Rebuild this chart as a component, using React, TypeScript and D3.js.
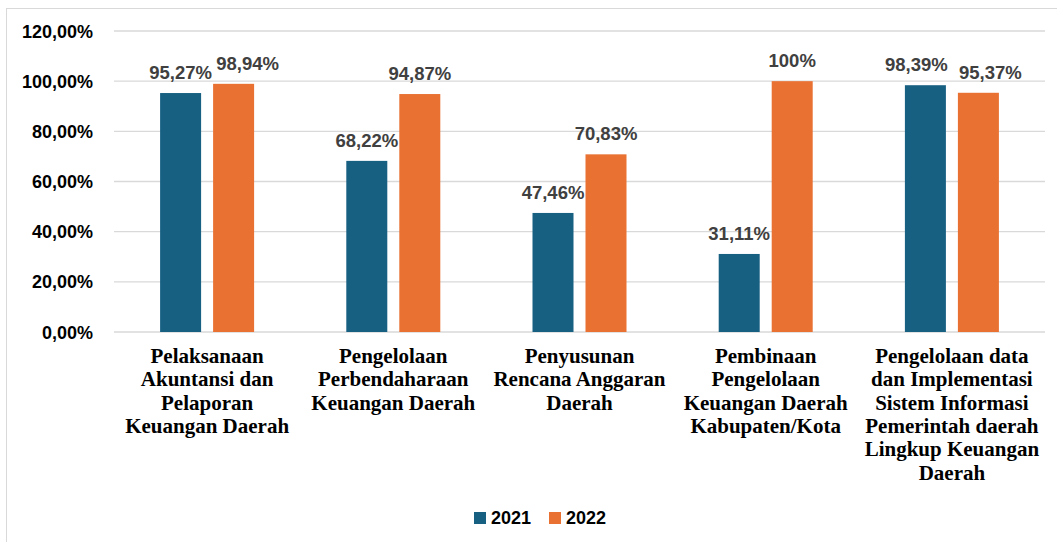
import React from "react";
import * as d3 from "d3";

const categories: string[][] = [
  ["Pelaksanaan", "Akuntansi dan", "Pelaporan", "Keuangan Daerah"],
  ["Pengelolaan", "Perbendaharaan", "Keuangan Daerah"],
  ["Penyusunan", "Rencana Anggaran", "Daerah"],
  ["Pembinaan", "Pengelolaan", "Keuangan Daerah", "Kabupaten/Kota"],
  ["Pengelolaan data", "dan Implementasi", "Sistem Informasi", "Pemerintah daerah", "Lingkup Keuangan", "Daerah"],
];
const seriesNames = ["2021", "2022"];
const values2021 = [95.27, 68.22, 47.46, 31.11, 98.39];
const values2022 = [98.94, 94.87, 70.83, 100, 95.37];
const labels2021 = ["95,27%", "68,22%", "47,46%", "31,11%", "98,39%"];
const labels2022 = ["98,94%", "94,87%", "70,83%", "100%", "95,37%"];
const yTicks = [0, 20, 40, 60, 80, 100, 120];
const yTickLabels = ["0,00%", "20,00%", "40,00%", "60,00%", "80,00%", "100,00%", "120,00%"];

const colors = ["#176082", "#E97132"];

export default function App() {
  const W = 1057;
  const H = 542;
  const left = 114;
  const right = 1045;
  const top = 31;
  const bottom = 332;

  const x0 = d3
    .scaleBand<number>()
    .domain(d3.range(categories.length))
    .range([left, right])
    .paddingInner(0)
    .paddingOuter(0);
  const y = d3.scaleLinear().domain([0, 120]).range([bottom, top]);

  const barW = 41;
  const gap = 12;
  const series = [values2021, values2022];
  const labels = [labels2021, labels2022];
  // small nudges Excel applied to avoid label overlap
  const nudge: Record<string, number> = { "0-1": 14, "4-0": -9, "4-1": 12 };

  const labelFont = "'Liberation Sans', Arial, sans-serif";
  const serif = "'Liberation Serif', 'Times New Roman', serif";

  return (
    <svg width={W} height={H} style={{ position: "absolute", left: 0, top: 0, background: "#fff" }}>
      <line x1={6} x2={W} y1={8.5} y2={8.5} stroke="#d9d9d9" strokeWidth={1} />
      <line x1={6.5} x2={6.5} y1={8} y2={H} stroke="#d9d9d9" strokeWidth={1} />
      {yTicks.map((t, i) => (
        <g key={t}>
          <line x1={left} x2={right} y1={y(t)} y2={y(t)} stroke="#d9d9d9" strokeWidth={1.3} />
          <text
            x={93}
            y={y(t) + 6.5}
            textAnchor="end"
            fontFamily={labelFont}
            fontWeight="bold"
            fontSize={18}
            fill="#000"
          >
            {yTickLabels[i]}
          </text>
        </g>
      ))}
      {categories.map((cat, ci) => {
        const cx = (x0(ci) as number) + x0.bandwidth() / 2;
        return (
          <g key={ci}>
            {series.map((vals, si) => {
              const bx = si === 0 ? cx - gap / 2 - barW : cx + gap / 2;
              const yv = y(vals[ci]);
              const dx = nudge[`${ci}-${si}`] || 0;
              return (
                <g key={si}>
                  <rect x={bx} y={yv} width={barW} height={bottom - yv} fill={colors[si]} />
                  <text
                    x={bx + barW / 2 + dx}
                    y={yv - 14}
                    textAnchor="middle"
                    fontFamily={labelFont}
                    fontWeight="bold"
                    fontSize={18.5}
                    fill="#404040"
                  >
                    {labels[si][ci]}
                  </text>
                </g>
              );
            })}
            <text
              x={cx}
              y={363}
              textAnchor="middle"
              fontFamily={serif}
              fontWeight="bold"
              fontSize={21}
              fill="#000"
            >
              {cat.map((line, li) => (
                <tspan key={li} x={cx} dy={li === 0 ? 0 : 23.3}>
                  {line}
                </tspan>
              ))}
            </text>
          </g>
        );
      })}
      {seriesNames.map((name, i) => {
        const lx = i === 0 ? 474 : 549;
        return (
          <g key={name}>
            <rect x={lx} y={512} width={12} height={12} fill={colors[i]} />
            <text
              x={lx + 17}
              y={524}
              fontFamily={labelFont}
              fontWeight="bold"
              fontSize={18}
              fill="#000"
            >
              {name}
            </text>
          </g>
        );
      })}
    </svg>
  );
}
